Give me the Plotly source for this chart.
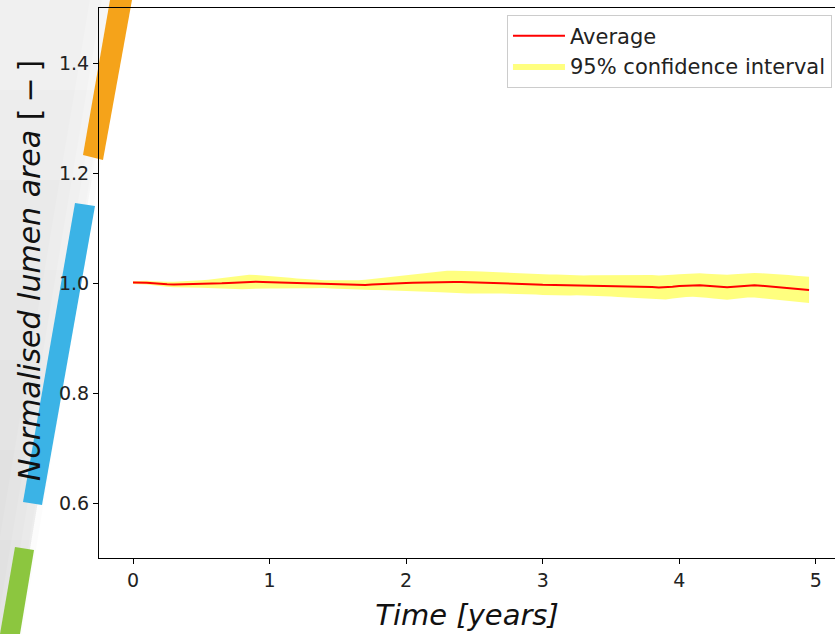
import plotly.graph_objects as go

time_years = [
    0.00, 0.05, 0.10, 0.15, 0.20, 0.25, 0.30, 0.35, 0.40, 0.45,
    0.50, 0.55, 0.60, 0.65, 0.70, 0.75, 0.80, 0.85, 0.90, 0.95,
    1.00, 1.05, 1.10, 1.15, 1.20, 1.25, 1.30, 1.35, 1.40, 1.45,
    1.50, 1.55, 1.60, 1.65, 1.70, 1.75, 1.80, 1.85, 1.90, 1.95,
    2.00, 2.05, 2.10, 2.15, 2.20, 2.25, 2.30, 2.35, 2.40, 2.45,
    2.50, 2.55, 2.60, 2.65, 2.70, 2.75, 2.80, 2.85, 2.90, 2.95,
    3.00, 3.05, 3.10, 3.15, 3.20, 3.25, 3.30, 3.35, 3.40, 3.45,
    3.50, 3.55, 3.60, 3.65, 3.70, 3.75, 3.80, 3.85, 3.90, 3.95,
    4.00, 4.05, 4.10, 4.15, 4.20, 4.25, 4.30, 4.35, 4.40, 4.45,
    4.50, 4.55, 4.60, 4.65, 4.70, 4.75, 4.80, 4.85, 4.90, 4.95,
]

average = [
    1.0008, 1.0010, 1.0006, 0.9996, 0.9983, 0.9978, 0.9975, 0.9977, 0.9974, 0.9980,
    0.9983, 0.9986, 0.9991, 0.9996, 1.0002, 1.0008, 1.0014, 1.0020, 1.0022, 1.0018,
    1.0014, 1.0010, 1.0006, 1.0000, 0.9994, 0.9988, 0.9983, 0.9984, 0.9979, 0.9974,
    0.9970, 0.9966, 0.9963, 0.9960, 0.9964, 0.9972, 0.9980, 0.9985, 0.9990, 0.9994,
    0.9999, 1.0004, 1.0009, 1.0014, 1.0018, 1.0021, 1.0022, 1.0020, 1.0017, 1.0014,
    1.0010, 1.0011, 1.0008, 1.0003, 0.9999, 0.9994, 0.9990, 0.9985, 0.9980, 0.9975,
    0.9968, 0.9966, 0.9963, 0.9960, 0.9958, 0.9959, 0.9956, 0.9957, 0.9954, 0.9951,
    0.9950, 0.9947, 0.9944, 0.9940, 0.9936, 0.9931, 0.9926, 0.9918, 0.9920, 0.9933,
    0.9945, 0.9955, 0.9963, 0.9961, 0.9950, 0.9938, 0.9928, 0.9924, 0.9932, 0.9945,
    0.9955, 0.9958, 0.9950, 0.9941, 0.9932, 0.9921, 0.9910, 0.9898, 0.9887, 0.9875,
]

ci_half_width = [
    0.0025, 0.0028, 0.0033, 0.0038, 0.0043, 0.0046, 0.0050, 0.0052, 0.0055, 0.0060,
    0.0068, 0.0075, 0.0085, 0.0097, 0.0110, 0.0120, 0.0127, 0.0128, 0.0124, 0.0120,
    0.0115, 0.0108, 0.0100, 0.0094, 0.0088, 0.0082, 0.0078, 0.0074, 0.0072, 0.0074,
    0.0076, 0.0080, 0.0083, 0.0088, 0.0094, 0.0100, 0.0108, 0.0116, 0.0125, 0.0135,
    0.0145, 0.0155, 0.0165, 0.0174, 0.0182, 0.0190, 0.0200, 0.0205, 0.0208, 0.0206,
    0.0203, 0.0200, 0.0197, 0.0193, 0.0190, 0.0187, 0.0185, 0.0182, 0.0180, 0.0183,
    0.0185, 0.0188, 0.0190, 0.0187, 0.0185, 0.0183, 0.0182, 0.0184, 0.0188, 0.0192,
    0.0196, 0.0200, 0.0204, 0.0208, 0.0212, 0.0215, 0.0218, 0.0220, 0.0219, 0.0216,
    0.0212, 0.0210, 0.0212, 0.0215, 0.0218, 0.0222, 0.0225, 0.0227, 0.0225, 0.0222,
    0.0220, 0.0223, 0.0228, 0.0232, 0.0235, 0.0237, 0.0236, 0.0235, 0.0236, 0.0238,
]

x_ticks = [0, 1, 2, 3, 4, 5]
y_ticks = [0.6, 0.8, 1.0, 1.2, 1.4]

lower = [a - h for a, h in zip(average, ci_half_width)]
upper = [a + h for a, h in zip(average, ci_half_width)]

W, H = 835, 634
ML, MR, MT, MB = 99, 0, 8, 76
PW, PH = W - ML - MR, H - MT - MB

fig = go.Figure()
fig.add_trace(go.Scatter(x=time_years, y=lower, mode="lines", line=dict(width=0, color="rgba(0,0,0,0)"),
                         showlegend=False, hoverinfo="skip", legendgroup="ci"))
fig.add_trace(go.Scatter(x=time_years, y=upper, mode="lines", line=dict(width=0, color="rgba(0,0,0,0)"),
                         fill="tonexty", fillcolor="rgba(255,255,0,0.5)",
                         name="95% confidence interval", legendgroup="ci", legendrank=2))
fig.add_trace(go.Scatter(x=time_years, y=average, mode="lines", line=dict(color="#ff0000", width=2),
                         name="Average", legendgroup="avg", legendrank=1))


def px2paper(px, py):
    return (px - ML) / PW, 1 - (py - MT) / PH


def poly(points, color, opacity=1.0):
    pts = [px2paper(x, y) for x, y in points]
    path = "M " + " L ".join(f"{x:.5f},{y:.5f}" for x, y in pts) + " Z"
    return dict(type="path", xref="paper", yref="paper", path=path, fillcolor=color,
                line=dict(width=0), opacity=opacity, layer="below")


def edge_x(y, shift):
    # slanted edge of the grey backdrop, parallel to the stripes
    return 128 - shift - (128 - 22) * y / 634


shapes = []
# soft grey backdrop on the far left (approximate gradient by stacking)
for shift in (0, 8, 16, 26, 38):
    shapes.append(poly([(0, 0), (edge_x(0, shift), 0), (edge_x(634, shift), 634), (0, 634)], "#000000", 0.011))
for top in (90, 180, 270, 360, 450, 540):
    shapes.append(poly([(0, top), (edge_x(top, 6), top), (edge_x(634, 6), 634), (0, 634)], "#000000", 0.010))
# decorative stripes
shapes.append(poly([(110, 0), (132, 0), (103, 160), (83, 155)], "#f5a31a"))
shapes.append(poly([(75, 203), (95, 206), (42, 505), (23, 502)], "#3bb3e6"))
shapes.append(poly([(15, 547), (34, 550), (20, 634), (0, 634)], "#8cc63f"))

ytitle_x, ytitle_y = px2paper(29, 271)

fig.update_layout(
    width=W, height=H,
    margin=dict(l=ML, r=MR, t=MT, b=MB, autoexpand=False),
    paper_bgcolor="white",
    plot_bgcolor="rgba(0,0,0,0)",
    font=dict(family="DejaVu Sans", size=19, color="#222222"),
    shapes=shapes,
    showlegend=True,
    legend=dict(x=0.9959, y=0.988, xanchor="right", yanchor="top", traceorder="grouped",
                bgcolor="rgba(255,255,255,0.85)", bordercolor="#cccccc", borderwidth=1,
                font=dict(size=21, color="#222222"), tracegroupgap=0, itemwidth=52),
    annotations=[dict(text="<i>Normalised lumen area</i> [\u2009−\u2009]", textangle=-90,
                      xref="paper", yref="paper", x=ytitle_x, y=ytitle_y,
                      xanchor="center", yanchor="middle", showarrow=False,
                      font=dict(size=30, color="#111111"))],
    xaxis=dict(range=[-0.249, 5.14], tickmode="array", tickvals=x_ticks,
               ticktext=[str(v) for v in x_ticks], automargin=False,
               showgrid=False, zeroline=False, showline=True, linecolor="black", linewidth=1,
               mirror=True, ticks="outside", ticklen=5, tickcolor="black",
               tickfont=dict(size=19, color="#222222"),
               title=dict(text="<i>Time [years]</i>", font=dict(size=29, color="#111111"), standoff=14)),
    yaxis=dict(range=[0.5, 1.5], tickmode="array", tickvals=y_ticks,
               ticktext=[f"{v:.1f}" for v in y_ticks], automargin=False,
               showgrid=False, zeroline=False, showline=True, linecolor="black", linewidth=1,
               ticks="outside", ticklen=5, tickcolor="black",
               tickfont=dict(size=19, color="#222222")),
)

fig.write_html("out.html", config={"displayModeBar": False},
               post_script="document.body.style.margin='0';document.body.style.padding='0';")
